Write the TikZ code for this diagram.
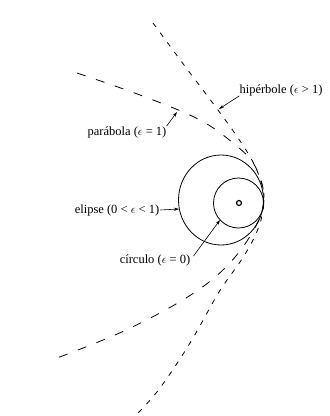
\documentclass[tikz,border=0pt]{standalone}
\usepackage{fontspec}
\setmainfont{Liberation Serif}
\usetikzlibrary{arrows.meta}
\begin{document}
\begin{tikzpicture}[x=1pt,y=-1pt,
  curve/.style={line width=0.8pt},
  para/.style={curve, dash pattern=on 9pt off 11pt},
  hyper/.style={curve, dash pattern=on 5pt off 7pt},
  lbl/.style={font=\fontsize{12.5}{14}\selectfont, inner sep=1pt},
  lead/.style={line width=0.6pt, -{Stealth[length=5pt,width=3.2pt]}}]
\useasboundingbox (0,0) rectangle (330,416);
\fill[white] (0,0) rectangle (330,416);

% parabola
\draw[para] plot[smooth, tension=0.6] coordinates {(77,73) (140,95) (198,119) (233,143) (255,166) (264,200) (252,233) (225,268) (186,298) (124,331) (57,358)};
% hyperbola
\draw[hyper] plot[smooth, tension=0.6] coordinates {(153,23) (184,65) (212,102) (236,135) (253,162) (262,185) (264,200) (261,220) (253,240) (240,262) (219,292) (190,343) (160,388) (138,413)};

% ellipse and circle
\draw[curve] (221,200) ellipse [x radius=42.5, y radius=45];
\draw[curve] (238.5,203) circle [radius=25];
\node[draw, circle, line width=1.2pt, inner sep=0pt, minimum size=5pt] (focus) at (239,203) {};

% labels
\node[lbl] (hyp) at (281,90) {hipérbole (\(\epsilon\) > 1)};
\node[lbl] (par) at (127,132) {parábola (\(\epsilon\) = 1)};
\node[lbl] (ell) at (117,210) {elipse (0 < \(\epsilon\) < 1)};
\node[lbl] (cir) at (155,260) {círculo (\(\epsilon\) = 0)};

\coordinate (hypt) at (219,109);
\coordinate (part) at (177,112);
\coordinate (ellt) at (179,209);
\coordinate (cirt) at (220,220);

\draw[lead] ([xshift=1pt,yshift=1pt]hyp.south west) -- (hypt);
\draw[lead] ([xshift=-1pt,yshift=-1pt]par.north east) -- (part);
\draw[lead] (ell.east) -- (ellt);
\draw[lead] ([xshift=2pt,yshift=-3pt]cir.north east) -- (cirt);
\end{tikzpicture}
\end{document}
